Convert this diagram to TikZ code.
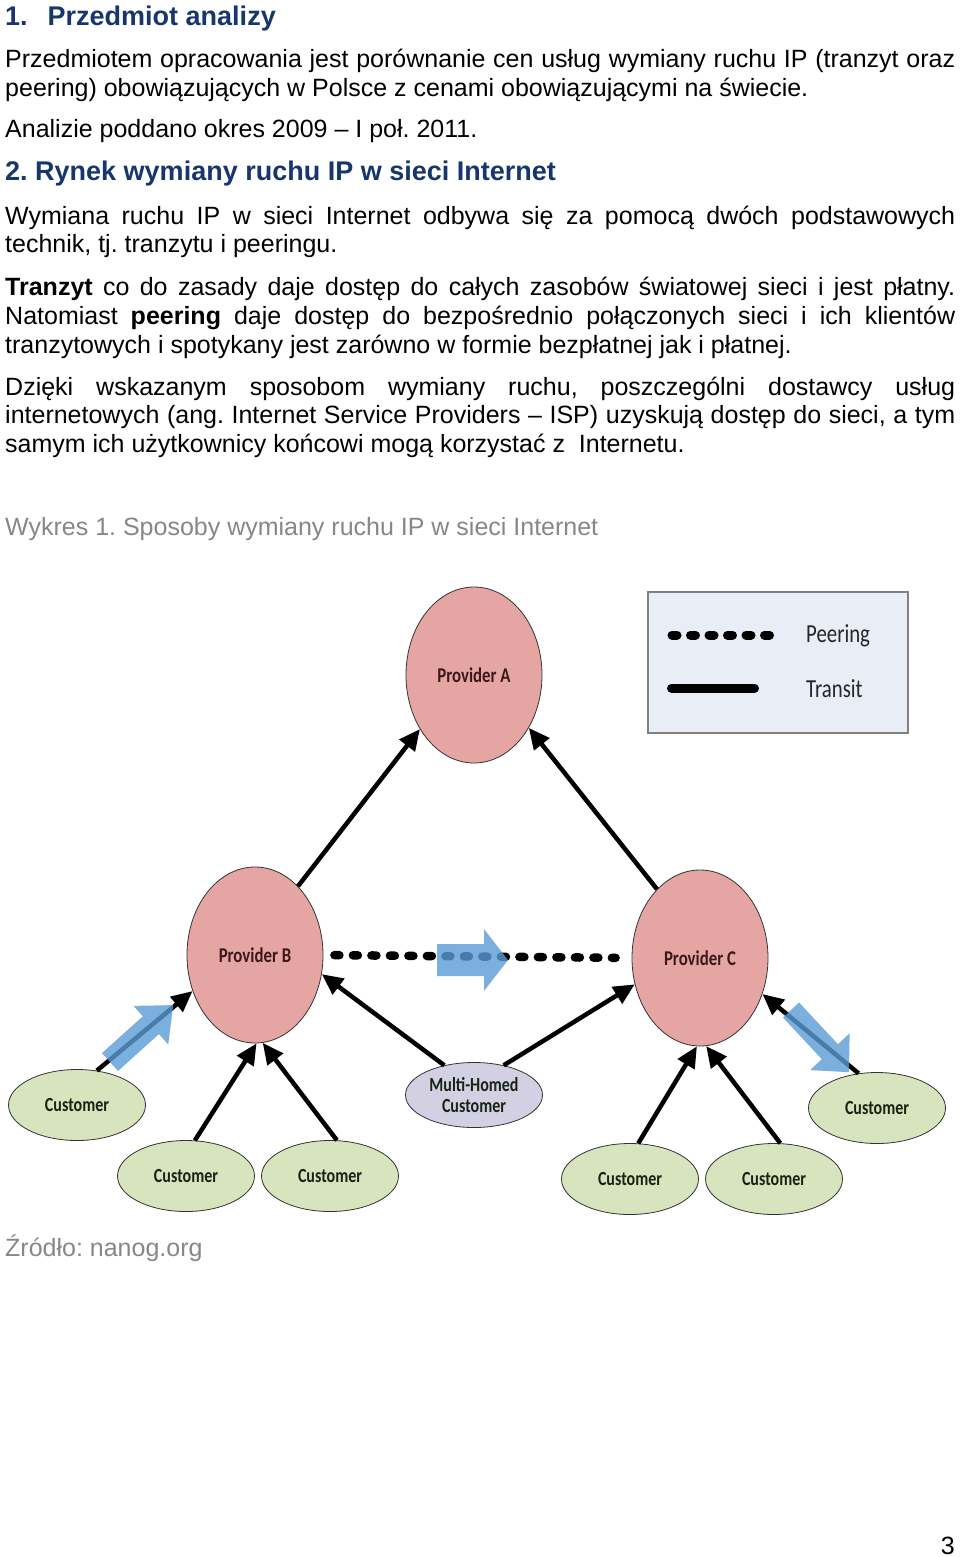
\documentclass[tikz,border=0pt]{standalone}
\usepackage{fontspec}
\setmainfont{Liberation Sans}
\newfontfamily\calib[FakeStretch=0.8]{Carlito}
\usetikzlibrary{arrows.meta,shapes.geometric}
\definecolor{navy}{RGB}{23,54,110}
\definecolor{capgray}{RGB}{135,135,135}
\definecolor{provfill}{RGB}{229,166,163}
\definecolor{custfill}{RGB}{215,228,189}
\definecolor{mhfill}{RGB}{212,208,228}
\definecolor{legfill}{RGB}{232,237,246}
\definecolor{legborder}{RGB}{128,128,128}
\definecolor{provtext}{RGB}{60,25,25}
\definecolor{custtext}{RGB}{25,35,20}
\definecolor{blueA}{RGB}{91,155,213}
\frenchspacing
\tikzset{
  body/.style={inner sep=0pt, anchor=base west, font=\fontsize{25}{29}\selectfont},
  head/.style={inner sep=0pt, anchor=base west, text=navy, font=\fontsize{27}{31}\selectfont\bfseries},
  captiontext/.style={inner sep=0pt, anchor=base west, text=capgray, font=\fontsize{25}{29}\selectfont},
  provider/.style={ellipse, draw=black!80, line width=0.8pt, fill=provfill, minimum width=136pt, minimum height=176pt, inner sep=0pt, text=provtext, font=\calib\fontsize{21}{24}\selectfont\bfseries},
  customer/.style={ellipse, draw=black!80, line width=0.8pt, fill=custfill, minimum width=137pt, minimum height=71pt, inner sep=0pt, text=custtext, font=\calib\fontsize{20}{24}\selectfont\bfseries},
  multi/.style={ellipse, draw=black!80, line width=0.8pt, fill=mhfill, minimum width=137pt, minimum height=65pt, inner sep=0pt, text=custtext, align=center, font=\calib\fontsize{20}{24}\selectfont\bfseries},
  transit/.style={line width=4.5pt, -{Triangle[length=21pt,width=19pt]}},
  peer/.style={line width=8.5pt, line cap=round, dash pattern=on 5pt off 13.5pt},
  legline/.style={line width=9pt, line cap=round},
  legtext/.style={inner sep=0pt, anchor=west, text=black!85, font=\calib\fontsize{26}{30}\selectfont},
  legendbox/.style={draw=legborder, line width=1.5pt, fill=legfill, minimum width=260pt, minimum height=141pt, inner sep=0pt},
  bluearrow/.style={fill=blueA, fill opacity=0.8}
}
\begin{document}
\begin{tikzpicture}[x=1pt,y=-1pt]
\useasboundingbox (0,0) rectangle (960,1557);
\fill[white] (0,0) rectangle (960,1557);

% ---- text ----
\node[head] (h1) at (5,26) {1.\hspace{20pt}Przedmiot analizy};
\node[body] (l1) at (5,68) {\makebox[950pt][s]{Przedmiotem opracowania jest porównanie cen usług wymiany ruchu IP (tranzyt oraz}};
\node[body] (l2) at (5,97) {peering) obowiązujących w Polsce z cenami obowiązującymi na świecie.};
\node[body] (l3) at (5,138) {Analizie poddano okres 2009 – I poł. 2011.};
\node[head] (h2) at (5,181) {2. Rynek wymiany ruchu IP w sieci Internet};
\node[body] (l4) at (5,224) {\makebox[950pt][s]{Wymiana ruchu IP w sieci Internet odbywa się za pomocą dwóch podstawowych}};
\node[body] (l5) at (5,252) {technik, tj. tranzytu i peeringu.};
\node[body] (l6) at (5,295) {\makebox[950pt][s]{\textbf{Tranzyt} co do zasady daje dostęp do całych zasobów światowej sieci i jest płatny.}};
\node[body] (l7) at (5,324) {\makebox[950pt][s]{Natomiast \textbf{peering} daje dostęp do bezpośrednio połączonych sieci i ich klientów}};
\node[body] (l8) at (5,353) {tranzytowych i spotykany jest zarówno w formie bezpłatnej jak i płatnej.};
\node[body] (l9) at (5,395) {\makebox[950pt][s]{Dzięki wskazanym sposobom wymiany ruchu, poszczególni dostawcy usług}};
\node[body] (l10) at (5,423) {\makebox[950pt][s]{internetowych (ang. Internet Service Providers – ISP) uzyskują dostęp do sieci, a tym}};
\node[body] (l11) at (5,452) {samym ich użytkownicy końcowi mogą korzystać z\ \ Internetu.};
\node[captiontext] (wyk) at (5,535) {Wykres 1. Sposoby wymiany ruchu IP w sieci Internet};
\node[captiontext] (zr) at (5,1256) {Źródło: nanog.org};
\node[body, anchor=base east] (pg) at (955,1554) {3};

% ---- legend ----
\node[legendbox] (leg) at (778,662.5) {};
\coordinate (lp1) at (672,635);
\coordinate (lp2) at (770,635);
\coordinate (lt1) at (671.5,688);
\coordinate (lt2) at (754.5,688);
\draw[legline, dash pattern=on 5pt off 13.5pt] (lp1) -- (lp2);
\draw[legline] (lt1) -- (lt2);
\node[legtext] (lgp) at (806,636) {Peering};
\node[legtext] (lgt) at (806,689) {Transit};

% ---- nodes ----
\node[provider] (pA) at (474,675) {Provider A};
\node[provider] (pB) at (255,955) {Provider B};
\node[provider] (pC) at (700,958) {Provider C};
\node[multi] (mh) at (474,1095) {Multi-Homed\\[-3pt]Customer};
\node[customer] (c1) at (77,1105) {Customer};
\node[customer] (c2) at (186,1176) {Customer};
\node[customer] (c3) at (330,1176) {Customer};
\node[customer] (c4) at (630,1179) {Customer};
\node[customer] (c5) at (774,1179) {Customer};
\node[customer] (c6) at (877,1108) {Customer};

% ---- transit ----
\draw[transit] (pB.58) -- (pA.225);
\draw[transit] (pC.122) -- (pA.-44);
\draw[transit] (mh.135) -- (pB.-16);
\draw[transit] (mh.45) -- (pC.202);
\draw[transit] (c1.60) -- (pB.210);
\draw[transit] (c2.76) -- (pB.-89);
\draw[transit] (c3.79) -- (pB.-85);
\draw[transit] (c4.77) -- (pC.-92);
\draw[transit] (c5.80) -- (pC.-86);
\draw[transit] (c6.118) -- (pC.-30);

% ---- peering ----
\draw[peer, shorten <=11pt, shorten >=16pt] (pB.east) -- (pC.west);

% ---- blue arrows ----
\fill[bluearrow, shift={(437,960)}, rotate=0]
  (0,-16) -- (47,-16) -- (47,-31) -- (71,0) -- (47,31) -- (47,16) -- (0,16) -- cycle;
\fill[bluearrow, shift={(110,1062)}, rotate=42]
  (0,-12) -- (55,-12) -- (55,-26) -- (85,0) -- (55,26) -- (55,12) -- (0,12) -- cycle;
\fill[bluearrow, shift={(791,1010)}, rotate=-47]
  (0,-11) -- (57,-11) -- (57,-27) -- (85,0) -- (57,27) -- (57,11) -- (0,11) -- cycle;
\end{tikzpicture}
\end{document}
